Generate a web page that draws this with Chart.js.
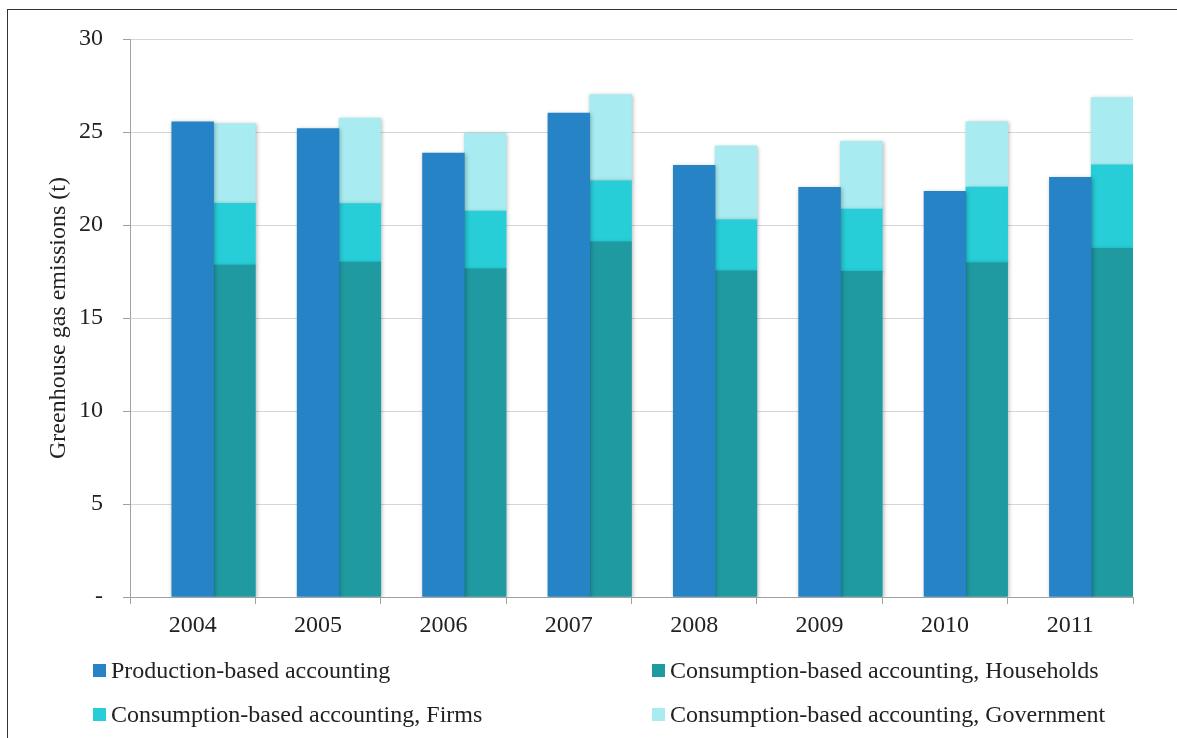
<!DOCTYPE html>
<html>
<head>
<meta charset="utf-8">
<script src="https://cdn.jsdelivr.net/npm/chart.js@4.4.0/dist/chart.umd.min.js"></script>
<style>
  html, body { margin: 0; padding: 0; background: #fff; }
  #wrap { position: relative; width: 1177px; height: 738px; overflow: hidden; }
  #frame { position: absolute; left: 7px; top: 9px; width: 1300px; height: 800px; border-left: 1px solid #333; border-top: 1px solid #333; pointer-events: none; }
  #box { position: absolute; left: 0; top: 0; width: 1177px; height: 738px; }
  #legend { position: absolute; left: 0; top: 0; width: 1177px; height: 738px; pointer-events: none;
            font-family: "Liberation Serif", "Times New Roman", serif; font-size: 24px; color: #222; }
  .item { position: absolute; display: flex; align-items: center; white-space: nowrap; height: 30px; }
  .sw { width: 13px; height: 13px; margin-right: 5px; flex: none; }
</style>
</head>
<body>
<div id="wrap">
  <div id="box"><canvas id="c"></canvas></div>
  <div id="frame"></div>
  <div id="legend"></div>
</div>
<script>
const categories = ["2004", "2005", "2006", "2007", "2008", "2009", "2010", "2011"];
const production = [25.55, 25.18, 23.87, 26.02, 23.21, 22.03, 21.81, 22.56];
const households = [17.84, 18.01, 17.64, 19.09, 17.53, 17.51, 17.97, 18.75];
const firms      = [3.32, 3.14, 3.11, 3.29, 2.75, 3.34, 4.07, 4.48];
const government = [4.29, 4.60, 4.18, 4.63, 3.97, 3.65, 3.51, 3.62];
const yTicks = [0, 5, 10, 15, 20, 25, 30];
const seriesNames = ["Production-based accounting", "Consumption-based accounting, Households",
                     "Consumption-based accounting, Firms", "Consumption-based accounting, Government"];
const seriesColors = ["#2683C6", "#1F9AA0", "#27CDD7", "#A8EBF0"];

const FONT = "'Liberation Serif', 'Times New Roman', serif";

const shadowPlugin = {
  id: 'barShadow',
  beforeDatasetsDraw(chart) {
    const ctx = chart.ctx;
    ctx.save();
    ctx.shadowColor = 'rgba(0,0,0,0.28)';
    ctx.shadowBlur = 4;
    ctx.shadowOffsetX = 1;
    ctx.shadowOffsetY = 1;
  },
  afterDatasetsDraw(chart) {
    chart.ctx.restore();
  }
};

const spacer = categories.map(() => null);

const chart = new Chart(document.getElementById('c'), {
  type: 'bar',
  data: {
    labels: categories,
    datasets: [
      { label: '', data: spacer, stack: 's0', backgroundColor: 'rgba(0,0,0,0)' },
      { label: seriesNames[0], data: production, stack: 's1', backgroundColor: seriesColors[0] },
      { label: seriesNames[1], data: households, stack: 's2', backgroundColor: seriesColors[1] },
      { label: seriesNames[2], data: firms, stack: 's2', backgroundColor: seriesColors[2] },
      { label: seriesNames[3], data: government, stack: 's2', backgroundColor: seriesColors[3] }
    ]
  },
  options: {
    responsive: true,
    maintainAspectRatio: false,
    animation: false,
    layout: { padding: { left: 0, top: 39, right: 44, bottom: 0 } },
    datasets: { bar: { categoryPercentage: 1.0, barPercentage: 1.0, borderWidth: 0 } },
    plugins: { legend: { display: false }, tooltip: { enabled: false } },
    scales: {
      x: {
        stacked: true,
        offset: true,
        grid: { display: true, drawOnChartArea: false, drawTicks: true, tickLength: 7, tickColor: '#A0A0A0', color: '#A0A0A0' },
        border: { display: true, color: '#A0A0A0', width: 1 },
        ticks: { color: '#222', font: { family: FONT, size: 24 }, padding: 7, maxRotation: 0 },
        afterFit(scale) { scale.height = 141; }
      },
      y: {
        stacked: true,
        min: 0,
        max: 30,
        afterBuildTicks(scale) { scale.ticks = yTicks.map(v => ({ value: v })); },
        grid: { color: '#D6D6D6', tickColor: '#A0A0A0', tickLength: 7, lineWidth: 1 },
        border: { display: true, color: '#A0A0A0', width: 1 },
        ticks: {
          color: '#222', font: { family: FONT, size: 24 }, padding: 20,
          callback: (v) => v === 0 ? '-' : String(v)
        },
        title: {
          display: true, text: 'Greenhouse gas emissions (t)', color: '#222',
          font: { family: FONT, size: 24 }, padding: { top: 44, bottom: 0 }
        },
        afterFit(scale) { scale.width = 130; }
      }
    }
  },
  plugins: [shadowPlugin]
});

// HTML legend built from the chart's datasets
const legendPos = [
  { left: 93, top: 655 }, { left: 652, top: 655 },
  { left: 93, top: 699 }, { left: 652, top: 699 }
];
const legend = document.getElementById('legend');
chart.data.datasets.slice(1).forEach((ds, i) => {
  const it = document.createElement('div');
  it.className = 'item';
  it.style.left = legendPos[i].left + 'px';
  it.style.top = legendPos[i].top + 'px';
  const sw = document.createElement('span');
  sw.className = 'sw';
  sw.style.background = ds.backgroundColor;
  const tx = document.createElement('span');
  tx.textContent = ds.label;
  it.appendChild(sw);
  it.appendChild(tx);
  legend.appendChild(it);
});
</script>
</body>
</html>
